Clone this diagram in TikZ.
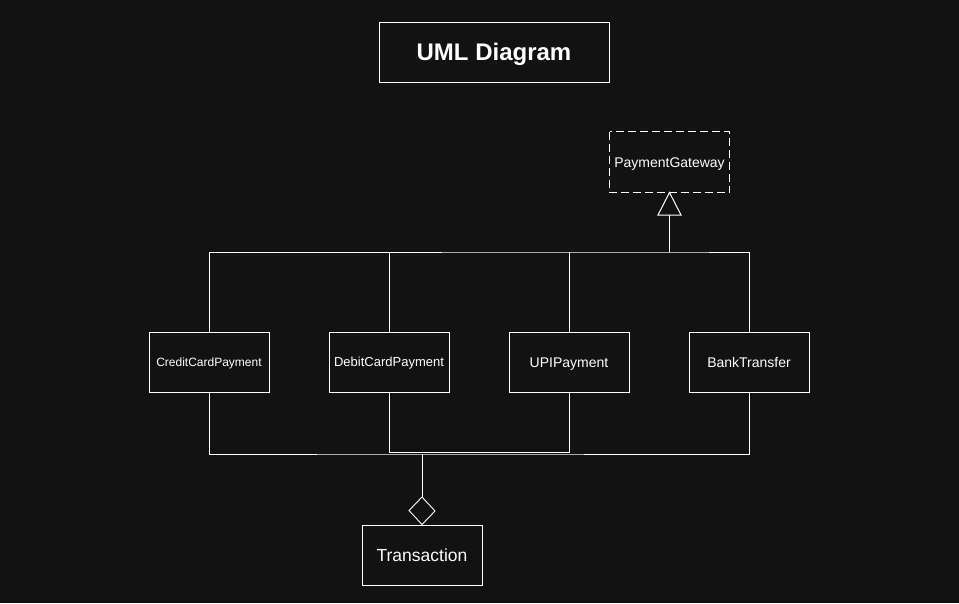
\documentclass[tikz,border=0pt]{standalone}
\usepackage{fontspec}
\setmainfont{Liberation Sans}
\definecolor{bgc}{HTML}{121212}
\begin{document}
\begin{tikzpicture}[x=1pt,y=-1pt,
  box/.style={draw=white,line width=1pt,minimum width=120pt,minimum height=60pt,inner sep=0pt,text=white,font=\fontsize{13}{15}\selectfont,text height=9.3pt,text depth=0pt},
  big/.style={font=\fontsize{14}{16}\selectfont,text height=10pt},
  wire/.style={draw=white,line width=1pt}]
\fill[bgc] (0,0) rectangle (959,603);
\useasboundingbox (0,0) rectangle (959,603);
\node[box,minimum width=230pt,font=\fontsize{24}{28}\selectfont\bfseries,text height=17.2pt] (title) at (494,52) {UML Diagram};
\node[box,big,draw=none,minimum width=119pt] (pg) at (669.5,162) {PaymentGateway};
\draw[white,line width=1pt,dash pattern=on 8pt off 4pt] (pg.north west) rectangle (pg.south east);
\node[box,font=\fontsize{12}{14}\selectfont,text height=8.6pt] (cc) at (209,362) {CreditCardPayment};
\node[box] (dc) at (389,362) {DebitCardPayment};
\node[box,big] (upi) at (569,362) {UPIPayment};
\node[box,big] (bt) at (749,362) {BankTransfer};
\node[box,font=\fontsize{17.5}{20}\selectfont,text height=12.5pt] (tr) at (422,555) {Transaction};
% generalization
\coordinate (tj) at (669.5,252);
\coordinate (tb) at (669.5,215);
\draw[wire] (cc.north) |- (tj) -| (bt.north);
\draw[wire] (dc.north) -- (dc.north |- tj);
\draw[wire] (upi.north) -- (upi.north |- tj);
\draw[wire,line width=1.6pt] (tj) -- (tb);
\draw[wire,line join=miter] (pg.south) -- (tb -| 681,0) -- (tb -| 658,0) -- cycle;
% aggregation
\coordinate (bj) at (422,454);
\draw[wire] (cc.south) |- (bj) -| (bt.south);
\draw[wire] (dc.south) |- (569,452.5) -- (upi.south);
\coordinate (dtop) at (422,497);
\draw[wire] (bj) -- (dtop);
\draw[draw=white,line width=0.9pt] (tr.north) -- ++(-13,-14) -- (dtop) -- ++(13,14) -- cycle;
\end{tikzpicture}
\end{document}
